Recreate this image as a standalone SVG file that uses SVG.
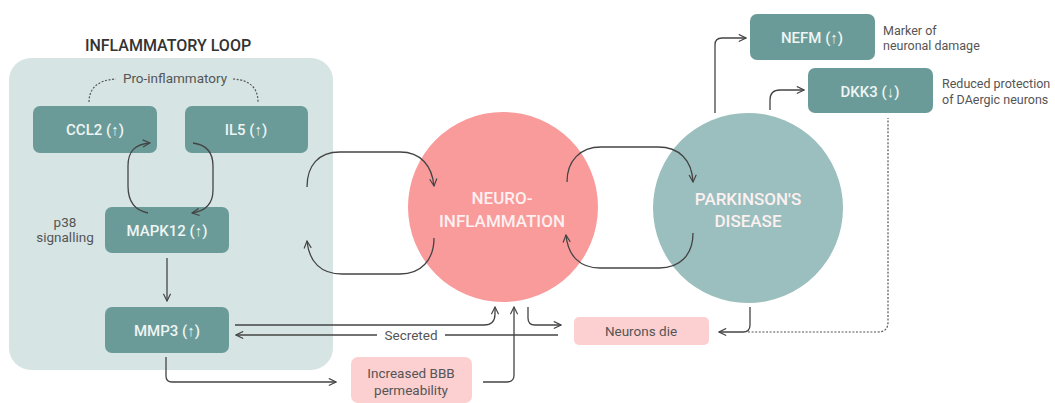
<svg xmlns="http://www.w3.org/2000/svg" width="1055" height="403" viewBox="0 0 1055 403">
  <defs>
    <marker id="arrow" viewBox="0 0 10 10" refX="9" refY="5" markerWidth="9" markerHeight="9" markerUnits="userSpaceOnUse" orient="auto">
      <path d="M1,1 L9,5 L1,9" fill="none" stroke="#444" stroke-width="1.3"/>
    </marker>
    <style>
      .box { fill: #6b9b98; }
      .pink { fill: #fcd0d1; }
      .btxt { font-family: Roboto, "Liberation Sans", sans-serif; font-size: 15px; fill: #eef5f4; text-anchor: middle; font-weight: 500; }
      .ctxt { font-family: Roboto, "Liberation Sans", sans-serif; font-size: 17px; fill: #fdf0f0; text-anchor: middle; font-weight: 500; }
      .ptxt { font-family: Roboto, "Liberation Sans", sans-serif; font-size: 13.5px; fill: #555; text-anchor: middle; }
      .note { font-family: Roboto, "Liberation Sans", sans-serif; font-size: 12.5px; fill: #555; }
      .link { fill: none; stroke: #444; stroke-width: 1.3; }
      .arr { marker-end: url(#arrow); }
      .dash { fill: none; stroke: #555; stroke-width: 1.2; stroke-dasharray: 2 1.6; }
    </style>
  </defs>
  <rect width="1055" height="403" fill="#ffffff"/>

  <!-- inflammatory loop panel -->
  <g id="inflammatory-loop">
    <rect x="9" y="58" width="324" height="312" rx="22" fill="#d6e5e4"/>
    <text x="168" y="51" font-family="Roboto, 'Liberation Sans', sans-serif" font-size="16" font-weight="500" fill="#333" text-anchor="middle">INFLAMMATORY LOOP</text>
    <text x="175" y="83" class="ptxt" font-size="13">Pro-inflammatory</text>
    <path class="dash" d="M89,102 C89,90 96,80 116,79"/>
    <path class="dash" d="M233,79 C252,80 258,90 258,102"/>
    <text x="65" y="227" class="ptxt" font-size="12.5">p38</text>
    <text x="65" y="242" class="ptxt" font-size="12.5">signalling</text>
  </g>

  <g id="ccl2">
    <rect class="box" x="33" y="106" width="124" height="47" rx="7"/>
    <text class="btxt" x="95" y="135">CCL2 (↑)</text>
  </g>
  <g id="il5">
    <rect class="box" x="185" y="106" width="123" height="47" rx="7"/>
    <text class="btxt" x="246" y="135">IL5 (↑)</text>
  </g>
  <g id="mapk12">
    <rect class="box" x="105" y="207" width="124" height="46" rx="7"/>
    <text class="btxt" x="167" y="236">MAPK12 (↑)</text>
  </g>
  <g id="mmp3">
    <rect class="box" x="105" y="307" width="124" height="46" rx="7"/>
    <text class="btxt" x="167" y="336">MMP3 (↑)</text>
  </g>

  <g id="neuroinflammation">
    <circle cx="503" cy="207" r="95" fill="#f99a9b"/>
    <text class="ctxt" x="502" y="204">NEURO-</text>
    <text class="ctxt" x="502" y="227">INFLAMMATION</text>
  </g>

  <g id="parkinsons">
    <circle cx="748" cy="208" r="95" fill="#9bbfbe"/>
    <text class="ctxt" x="748" y="205">PARKINSON'S</text>
    <text class="ctxt" x="748" y="227">DISEASE</text>
  </g>

  <g id="nefm">
    <rect class="box" x="750" y="14" width="125" height="46" rx="7"/>
    <text class="btxt" x="812" y="43">NEFM (↑)</text>
    <text class="note" x="883" y="35">Marker of</text>
    <text class="note" x="883" y="50">neuronal damage</text>
  </g>
  <g id="dkk3">
    <rect class="box" x="808" y="68" width="125" height="45" rx="7"/>
    <text class="btxt" x="870" y="97">DKK3 (↓)</text>
    <text class="note" x="942" y="88" font-size="13">Reduced protection</text>
    <text class="note" x="942" y="104" font-size="13">of DAergic neurons</text>
  </g>

  <g id="bbb">
    <rect class="pink" x="351" y="357" width="121" height="46" rx="7"/>
    <text class="ptxt" x="411" y="378" font-size="14">Increased BBB</text>
    <text class="ptxt" x="411" y="395" font-size="14">permeability</text>
  </g>

  <g id="neurons-die">
    <rect class="pink" x="574" y="317" width="135" height="28" rx="5"/>
    <text class="ptxt" x="641" y="336">Neurons die</text>
  </g>

  <g id="connectors">
    <!-- feedback inside the loop -->
    <path class="link arr" d="M148,213 C133,210 128,200 128,186 L128,166 C128,151 135,144 150,143"/>
    <path class="link arr" d="M193,143 C208,145 213,154 213,166 L213,190 C213,204 206,211 192,213"/>
    <path class="link arr" d="M167,258 L167,301"/>
    <!-- loop <-> neuroinflammation -->
    <path class="link arr" d="M307,187 C307,166 318,152 340,152 L400,152 C421,152 432,166 434,186"/>
    <path class="link arr" d="M434,238 C434,260 421,274 400,274 L342,274 C321,274 309,262 307,241"/>
    <!-- neuroinflammation <-> parkinson's -->
    <path class="link arr" d="M567,182 C567,161 580,147 601,147 L658,147 C679,147 692,160 693,182"/>
    <path class="link arr" d="M693,233 C693,255 680,268 659,268 L600,268 C580,268 568,256 566,235"/>
    <!-- MMP3 outputs -->
    <path class="link arr" d="M235,325 L484,325 Q495,325 495,314 L495,307"/>
    <path class="link arr" d="M558,335 L236,335"/>
    <rect x="377" y="327" width="68" height="16" fill="#ffffff"/>
    <text class="ptxt" x="411" y="340" font-size="12.5">Secreted</text>
    <path class="link arr" d="M166,357 L166,376 Q166,382 172,382 L336,382"/>
    <path class="link arr" d="M483,382 L507,382 Q514,382 514,375 L514,307"/>
    <!-- towards neuron death -->
    <path class="link arr" d="M528,307 L528,318 Q528,325 535,325 L561,325"/>
    <path class="link arr" d="M750,307 L750,325 Q750,332 743,332 L719,332"/>
    <path class="dash" d="M748,332 L878,332 Q888,332 888,322 L888,118"/>
    <!-- parkinson's markers -->
    <path class="link arr" d="M715,113 L715,45 Q715,38 722,38 L746,38"/>
    <path class="link arr" d="M770,110 L770,100 Q770,90 780,90 L804,90"/>
  </g>
</svg>
